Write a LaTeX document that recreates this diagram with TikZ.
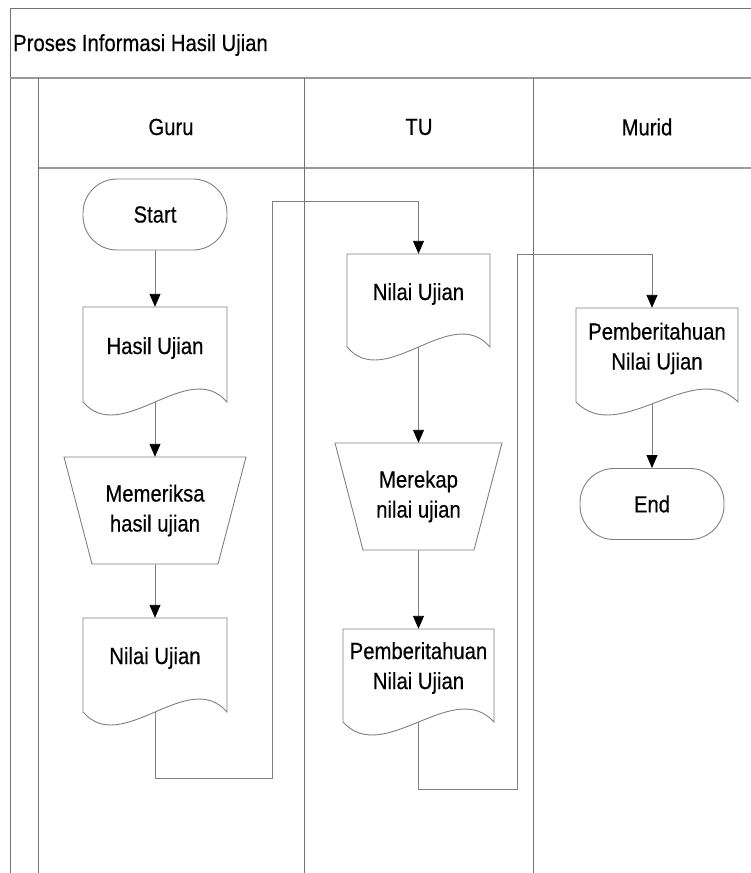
\documentclass[tikz,border=0pt]{standalone}
\usepackage{fontspec}
\setmainfont{Liberation Sans}[FakeStretch=0.87,FakeBold=0.4]
\usetikzlibrary{arrows.meta,calc}
\pgfdeclarelayer{conn}
\pgfdeclarelayer{shp}
\pgfsetlayers{conn,shp,main}

\tikzset{
  lbl/.style={font=\fontsize{23.3}{30}\selectfont, align=center, inner sep=0pt},
  frameline/.style={draw=black!55, line width=1pt},
  barline/.style={draw=black!40, line width=2.4pt},
  shapeline/.style={draw=black!50, line width=0.9pt, fill=white},
  conn/.style={draw=black!50, line width=0.9pt},
  arr/.style={conn, -{Triangle[length=13pt,width=11pt,color=black]}},
  term/.style={lbl, draw=black!50, line width=0.9pt, fill=white, rounded corners=34pt,
               minimum width=144pt, minimum height=71pt}
}

% #1 name, #2 left, #3 right, #4 top, #5 corner y, #6 text centre y, #7 text
\newcommand\docnode[7]{%
  \node[lbl, minimum width={#3-#2}, minimum height={2*(#6-#4)}] (#1) at ({(#2+#3)/2},{#6}) {#7};
  \begin{pgfonlayer}{shp}
    \path[shapeline] (#2,#4) -- (#3,#4) -- (#3,#5)
      .. controls ({#3-0.27*(#3-#2)},{#5-45}) and ({#2+0.27*(#3-#2)},{#5+45}) .. (#2,#5) -- cycle;
  \end{pgfonlayer}
}
% #1 name, #2 top y, #3 bottom y, #4 top-left x, #5 top-right x, #6 bottom-left x, #7 bottom-right x, #8 text
\newcommand\trapnode[8]{%
  \node[lbl, minimum width={#5-#4}, minimum height={#3-#2}] (#1) at ({(#4+#5)/2},{(#2+#3)/2}) {#8};
  \begin{pgfonlayer}{shp}
    \path[shapeline] (#4,#2) -- (#5,#2) -- (#7,#3) -- (#6,#3) -- cycle;
  \end{pgfonlayer}
}

\begin{document}
\begin{tikzpicture}[x=1pt,y=-1pt]
\useasboundingbox (0,0) rectangle (751,873);

% frame and lanes
\begin{pgfonlayer}{conn}
  \draw[frameline] (10,873) -- (10,8) -- (751,8);
  \draw[barline] (10,78) -- (751,78);
  \draw[barline] (38,168) -- (751,168);
  \draw[frameline] (38,78) -- (38,873);
  \draw[frameline] (304,78) -- (304,873);
  \draw[frameline] (533,78) -- (533,873);
\end{pgfonlayer}

\node[lbl, anchor=west] (title) at (13,45) {Proses Informasi Hasil Ujian};
\node[lbl] (hguru) at (171,127) {Guru};
\node[lbl] (htu) at (419,127) {TU};
\node[lbl] (hmurid) at (647,127) {Murid};

% Guru lane
\node[term] (start) at (155,214.5) {Start};
\docnode{hu}{83}{227}{307}{402}{348}{Hasil Ujian}
\trapnode{mem}{457}{564}{64}{246}{92}{218}{Memeriksa\\hasil ujian}
\docnode{nu1}{83}{227}{618}{712}{658}{Nilai Ujian}

% TU lane
\docnode{nu2}{347}{490}{254}{347}{294}{Nilai Ujian}
\trapnode{rek}{443}{550}{335}{502}{363}{474}{Merekap\\nilai ujian}
\docnode{pn2}{343}{494}{629}{722}{668}{Pemberitahuan\\Nilai Ujian}

% Murid lane
\docnode{pn3}{576}{738}{308}{402}{348.5}{Pemberitahuan\\Nilai Ujian}
\node[term] (end) at (652,504) {End};

\coordinate (c1) at (272,778);
\coordinate (c2) at (272,201);
\coordinate (c3) at (517,789);
\coordinate (c4) at (517,254);

\begin{pgfonlayer}{conn}
  \draw[arr] (start.south) -- (hu.north);
  \draw[arr] (hu.south) -- (mem.north);
  \draw[arr] (mem.south) -- (nu1.north);
  \draw[arr] (nu1.south) |- (c1) -- (c2) -| (nu2.north);
  \draw[arr] (nu2.south) -- (rek.north);
  \draw[arr] (rek.south) -- (pn2.north);
  \draw[arr] (pn2.south) |- (c3) -- (c4) -| (pn3.north -| end.north);
  \draw[arr] (pn3.south -| end.north) -- (end.north);
\end{pgfonlayer}
\end{tikzpicture}
\end{document}
